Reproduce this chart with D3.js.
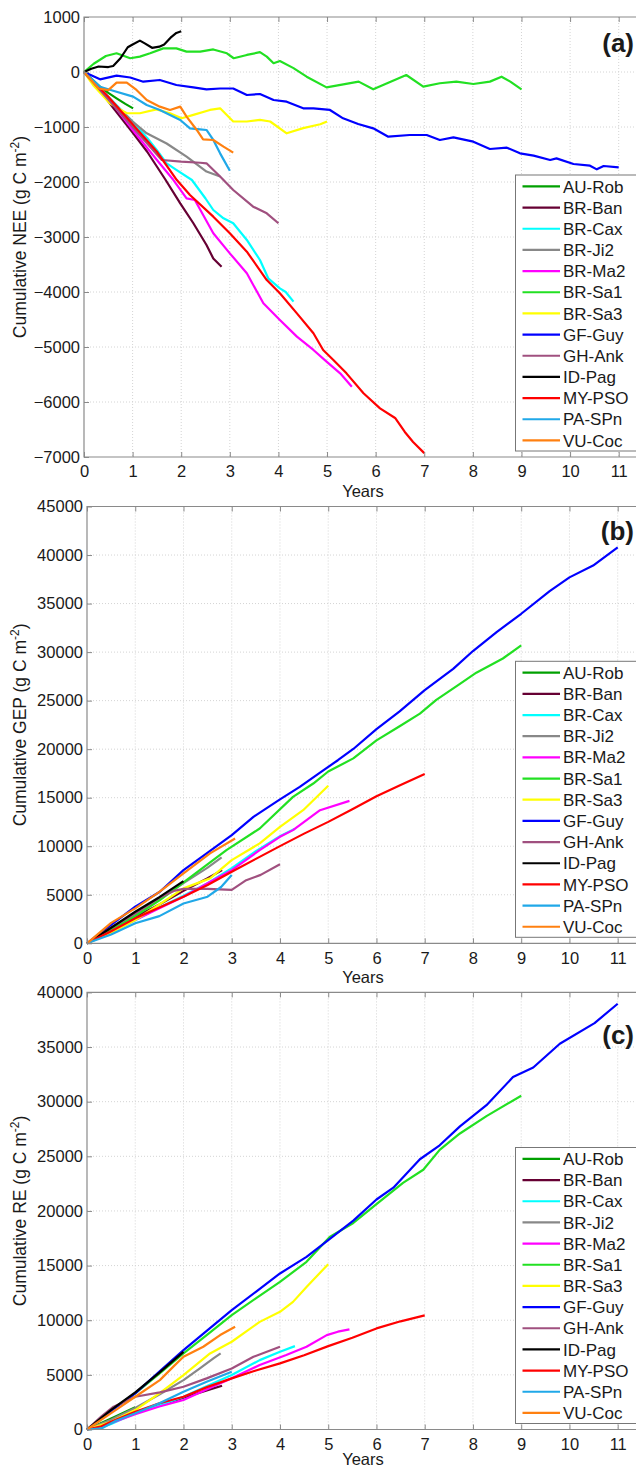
<!DOCTYPE html>
<html>
<head>
<meta charset="utf-8">
<script src="https://cdn.jsdelivr.net/npm/d3@7"></script>
<style>
    body { margin: 0; background: #fff; }
    text { font-family: Arial, "Liberation Sans", sans-serif; fill: #1a1a1a; }
</style>
</head>
<body>
<svg id="chart" width="636" height="1470"></svg>
<script>
// sites in legend (and plotting) order
var sites = ['AU-Rob', 'BR-Ban', 'BR-Cax', 'BR-Ji2', 'BR-Ma2', 'BR-Sa1', 'BR-Sa3',
    'GF-Guy', 'GH-Ank', 'ID-Pag', 'MY-PSO', 'PA-SPn', 'VU-Coc'];
var siteColors = ['#00a000', '#660033', '#00ffff', '#888888', '#ff00ff', '#22e022', '#ffff00',
    '#0000ff', '#a0507f', '#000000', '#ff0000', '#20a8e8', '#ff8010'];

var yearTicks = [0, 1, 2, 3, 4, 5, 6, 7, 8, 9, 10, 11];
var neeTicks = [-7000, -6000, -5000, -4000, -3000, -2000, -1000, 0, 1000];
var gepTicks = [0, 5000, 10000, 15000, 20000, 25000, 30000, 35000, 40000, 45000];
var reTicks = [0, 5000, 10000, 15000, 20000, 25000, 30000, 35000, 40000];

// cumulative NEE, [year, g C m-2], one list per site
var nee = [
    [[0, 0], [0.15, -120], [0.33, -267], [0.5, -380], [0.67, -479], [0.85, -580], [1.01, -661]],
    [[0, 0], [0.3, -300], [0.6, -650], [1.0, -1100], [1.3, -1450], [1.67, -1950], [1.98, -2390], [2.25, -2750], [2.52, -3145], [2.66, -3390], [2.83, -3540]],
    [[0, 0], [0.5, -450], [1.0, -900], [1.3, -1200], [1.5, -1420], [1.7, -1660], [1.9, -1780], [2.22, -1964], [2.5, -2300], [2.66, -2509], [2.87, -2660], [3.07, -2751], [3.35, -3054], [3.62, -3418], [3.79, -3751], [4.03, -3933], [4.15, -4000], [4.31, -4176]],
    [[0, 0], [0.5, -480], [1.0, -900], [1.29, -1115], [1.7, -1300], [2.11, -1540], [2.52, -1810], [2.8, -1900]],
    [[0, 0], [0.5, -480], [1.0, -1050], [1.5, -1600], [1.84, -1964], [2.11, -2297], [2.28, -2327], [2.66, -2933], [3.0, -3297], [3.35, -3660], [3.69, -4206], [4.03, -4509], [4.38, -4812], [4.72, -5054], [4.99, -5267], [5.27, -5479], [5.51, -5721]],
    [[0, 0], [0.2, 150], [0.45, 290], [0.67, 340], [0.95, 250], [1.15, 280], [1.36, 340], [1.63, 430], [1.9, 430], [2.11, 370], [2.39, 370], [2.66, 410], [2.94, 340], [3.08, 250], [3.35, 310], [3.62, 360], [3.76, 280], [3.9, 160], [4.03, 200], [4.31, 70], [4.58, -85], [4.99, -280], [5.65, -175], [5.95, -315], [6.63, -55], [6.98, -265], [7.32, -205], [7.66, -175], [8.01, -218], [8.35, -175], [8.59, -85], [8.77, -175], [9.0, -315]],
    [[0, 0], [0.2, -250], [0.53, -570], [0.88, -750], [1.15, -750], [1.49, -680], [1.77, -750], [2.01, -840], [2.25, -780], [2.59, -690], [2.8, -660], [3.07, -900], [3.35, -900], [3.62, -870], [3.83, -900], [4.17, -1115], [4.51, -1020], [4.86, -950], [5.0, -900]],
    [[0, 0], [0.33, -133], [0.67, -67], [0.95, -100], [1.22, -176], [1.56, -145], [1.9, -236], [2.25, -279], [2.52, -315], [2.8, -300], [3.07, -300], [3.35, -418], [3.62, -400], [3.9, -509], [4.17, -540], [4.51, -660], [4.72, -660], [5.06, -690], [5.33, -842], [5.64, -945], [5.95, -1024], [6.26, -1176], [6.7, -1145], [7.05, -1145], [7.32, -1236], [7.6, -1188], [8.01, -1267], [8.35, -1400], [8.7, -1376], [8.97, -1479], [9.25, -1521], [9.59, -1600], [9.72, -1570], [10.07, -1673], [10.41, -1703], [10.55, -1770], [10.69, -1709], [11.0, -1733]],
    [[0, 0], [0.5, -500], [1.0, -1000], [1.3, -1300], [1.6, -1600], [2.0, -1630], [2.39, -1650], [2.52, -1660], [2.8, -1900], [3.07, -2145], [3.48, -2448], [3.76, -2570], [4.0, -2750]],
    [[0, 0], [0.15, 60], [0.3, 100], [0.5, 90], [0.6, 110], [0.75, 250], [0.9, 450], [1.0, 500], [1.15, 570], [1.25, 520], [1.4, 440], [1.55, 460], [1.65, 500], [1.8, 640], [1.9, 710], [2.0, 740]],
    [[0, 0], [0.5, -450], [1.0, -950], [1.5, -1450], [1.91, -1964], [2.18, -2236], [2.66, -2630], [3.0, -2933], [3.35, -3267], [3.76, -3782], [4.03, -4024], [4.38, -4388], [4.72, -4751], [4.92, -5054], [5.13, -5236], [5.4, -5479], [5.75, -5842], [6.09, -6115], [6.4, -6290], [6.6, -6545], [6.77, -6727], [7.0, -6930]],
    [[0, 0], [0.33, -267], [0.6, -340], [1.01, -448], [1.29, -600], [1.56, -690], [1.77, -782], [1.98, -873], [2.18, -1024], [2.39, -1042], [2.52, -1054], [2.66, -1236], [2.8, -1479], [3.0, -1794]],
    [[0, 0], [0.3, -300], [0.5, -330], [0.67, -194], [0.88, -194], [1.08, -327], [1.29, -509], [1.56, -630], [1.77, -690], [1.98, -630], [2.11, -812], [2.32, -1054], [2.45, -1224], [2.66, -1236], [2.87, -1357], [3.07, -1466]]
];

// cumulative GEP
var gep = [
    [[0, 0], [0.5, 1300], [1.0, 2700]],
    [[0, 0], [0.5, 1300], [1.0, 2700], [1.5, 4000], [2.0, 5400], [2.5, 6700], [2.8, 7540]],
    [[0, 0], [0.5, 1100], [1.0, 2380], [1.5, 3700], [2.0, 4900], [2.5, 6200], [3.0, 7730], [3.5, 9500], [4.0, 11040], [4.31, 11800]],
    [[0, 0], [0.5, 1500], [1.0, 3000], [1.5, 4500], [2.0, 6200], [2.5, 7800], [2.79, 8850]],
    [[0, 0], [0.5, 1200], [1.0, 2400], [1.5, 3600], [2.0, 4800], [2.5, 6200], [3.0, 7540], [3.58, 9600], [4.0, 10970], [4.27, 11660], [4.83, 13710], [5.44, 14670]],
    [[0, 0], [0.5, 1400], [1.0, 2800], [1.51, 4450], [2.2, 7030], [2.89, 9600], [3.58, 11830], [4.27, 15080], [4.69, 16460], [5.0, 17700], [5.52, 19050], [6.0, 20900], [6.48, 22360], [6.9, 23660], [7.24, 25070], [7.73, 26720], [8.07, 27880], [8.62, 29340], [9.0, 30700]],
    [[0, 0], [0.5, 1100], [1.0, 2400], [1.5, 4000], [2.0, 5660], [2.55, 6690], [3.0, 8570], [3.58, 10290], [4.0, 12000], [4.48, 13710], [5.0, 16230]],
    [[0, 0], [0.5, 1900], [1.0, 3770], [1.51, 5310], [2.0, 7540], [2.48, 9260], [3.0, 11140], [3.45, 13030], [4.0, 14820], [4.41, 16110], [4.83, 17590], [5.2, 18860], [5.52, 20020], [6.0, 22060], [6.48, 23900], [7.0, 26090], [7.59, 28270], [8.0, 30110], [8.49, 32060], [9.0, 33950], [9.59, 36280], [10.0, 37700], [10.49, 38920], [11.0, 40800]],
    [[0, 0], [0.5, 1600], [1.0, 3100], [1.5, 4700], [1.8, 5400], [2.0, 5600], [2.5, 5600], [3.0, 5500], [3.3, 6500], [3.6, 7050], [4.0, 8150]],
    [[0, 0], [0.5, 1600], [1.0, 3250], [1.5, 4750], [2.0, 6400]],
    [[0, 0], [0.5, 1250], [1.0, 2570], [1.5, 3700], [2.0, 4800], [2.5, 6000], [3.0, 7370], [3.5, 8700], [4.0, 10010], [4.5, 11300], [5.0, 12510], [5.5, 13800], [6.0, 15150], [6.5, 16300], [7.0, 17450]],
    [[0, 0], [0.5, 900], [1.0, 2060], [1.5, 2800], [2.0, 4100], [2.5, 4800], [2.78, 5800], [3.0, 7030]],
    [[0, 0], [0.5, 2100], [1.0, 3600], [1.5, 5300], [2.0, 7200], [2.55, 9260], [3.07, 10800]]
];

// cumulative RE
var re = [
    [[0, 0], [0.5, 1000], [1.0, 2040]],
    [[0, 0], [0.5, 700], [1.0, 1500], [1.5, 2200], [2.0, 2900], [2.5, 3600], [2.8, 4000]],
    [[0, 0], [0.3, 200], [0.5, 500], [1.0, 1480], [1.5, 2200], [2.0, 3000], [2.5, 4000], [3.0, 4980], [3.58, 6350], [4.0, 7110], [4.31, 7630]],
    [[0, 0], [0.5, 900], [1.0, 1960], [1.5, 3200], [2.0, 4520], [2.34, 5590], [2.62, 6510], [2.77, 6960]],
    [[0, 0], [0.5, 600], [1.0, 1400], [1.5, 2100], [2.0, 2700], [2.5, 3700], [3.0, 4680], [3.58, 5900], [4.13, 6810], [4.55, 7570], [4.97, 8640], [5.2, 8950], [5.44, 9160]],
    [[0, 0], [0.5, 1800], [1.0, 3300], [1.5, 5100], [2.0, 6960], [2.5, 8700], [3.0, 10470], [3.5, 12000], [4.0, 13510], [4.55, 15340], [5.03, 17610], [5.52, 18900], [6.0, 20620], [6.55, 22570], [6.97, 23770], [7.31, 25590], [7.73, 27090], [8.28, 28680], [9.0, 30540]],
    [[0, 0], [0.5, 700], [1.0, 1780], [1.5, 3300], [2.0, 4980], [2.55, 6960], [3.0, 8030], [3.58, 9850], [4.0, 10770], [4.27, 11680], [4.55, 13050], [5.0, 15130]],
    [[0, 0], [0.5, 1700], [1.0, 3310], [1.5, 5300], [2.0, 7270], [2.5, 9100], [3.0, 10920], [3.5, 12600], [4.0, 14280], [4.55, 15800], [5.0, 17320], [5.52, 19110], [6.0, 21050], [6.35, 22130], [6.9, 24730], [7.31, 26010], [7.73, 27740], [8.28, 29680], [8.83, 32250], [9.25, 33130], [9.8, 35300], [10.52, 37190], [11.0, 38960]],
    [[0, 0], [0.3, 1200], [0.55, 2090], [1.0, 3000], [1.51, 3400], [2.0, 3910], [2.48, 4680], [3.0, 5590], [3.45, 6650], [4.0, 7570]],
    [[0, 0], [0.5, 1800], [1.0, 3400], [1.5, 5200], [2.0, 7100]],
    [[0, 0], [0.3, 300], [0.5, 700], [1.0, 1630], [1.5, 2400], [2.0, 3000], [2.5, 3900], [3.0, 4680], [3.5, 5400], [4.0, 6050], [4.5, 6800], [5.0, 7630], [5.5, 8400], [6.0, 9250], [6.5, 9900], [7.0, 10450]],
    [[0, 0], [0.3, 100], [0.6, 800], [1.0, 1480], [1.5, 2400], [2.0, 3450], [2.48, 4370], [3.0, 5280]],
    [[0, 0], [0.5, 1500], [1.0, 3000], [1.51, 4520], [1.8, 5800], [2.0, 6650], [2.41, 7570], [2.76, 8640], [3.07, 9400]]
];

var panels = [
    { data: nee, ticks: neeTicks, name: 'NEE', tag: '(a)', tagY: 360, left: 84, top: 17, bottom: 457, x11: 618.7 },
    { data: gep, ticks: gepTicks, name: 'GEP', tag: '(b)', tagY: 41500, left: 87, top: 506.5, bottom: 943.3, x11: 617.7 },
    { data: re, ticks: reTicks, name: 'RE', tag: '(c)', tagY: 35300, left: 87, top: 992.4, bottom: 1429.5, x11: 617.7 }
];

var svg = d3.select('#chart');
var axisGray = '#8a8a8a';
var rightEdge = 645;

function drawPanel(p) {
    var x = d3.scaleLinear().domain([0, 11]).range([p.left, p.x11]);
    var y = d3.scaleLinear()
        .domain([p.ticks[0], p.ticks[p.ticks.length - 1]])
        .range([p.bottom, p.top]);
    var g = svg.append('g');

    // dotted grid
    g.selectAll('.gx').data(yearTicks.slice(1)).enter().append('line')
        .attr('x1', x).attr('x2', x)
        .attr('y1', p.top).attr('y2', p.bottom)
        .attr('stroke', '#d4d4d4').attr('stroke-dasharray', '1,2');
    g.selectAll('.gy').data(p.ticks.slice(1, -1)).enter().append('line')
        .attr('x1', p.left).attr('x2', rightEdge)
        .attr('y1', y).attr('y2', y)
        .attr('stroke', '#d4d4d4').attr('stroke-dasharray', '1,2');

    // series, later sites on top
    var line = d3.line().x(function (d) { return x(d[0]); }).y(function (d) { return y(d[1]); });
    p.data.forEach(function (pts, i) {
        g.append('path')
            .attr('d', line(pts))
            .attr('fill', 'none')
            .attr('stroke', siteColors[i])
            .attr('stroke-width', 2.2)
            .attr('stroke-linejoin', 'round');
    });

    // frame: left, top and bottom (right side is cut off)
    g.append('path')
        .attr('d', 'M' + rightEdge + ',' + p.top + 'H' + p.left + 'V' + p.bottom + 'H' + rightEdge)
        .attr('fill', 'none').attr('stroke', axisGray).attr('stroke-width', 1.2);

    // axes with inward ticks
    var ax = g.append('g').attr('transform', 'translate(0,' + p.bottom + ')')
        .call(d3.axisBottom(x).tickValues(yearTicks).tickSizeInner(-5).tickSizeOuter(0).tickPadding(8.5));
    var axTop = g.append('g').attr('transform', 'translate(0,' + p.top + ')')
        .call(d3.axisTop(x).tickValues(yearTicks).tickSizeInner(-5).tickSizeOuter(0).tickFormat(''));
    var ay = g.append('g').attr('transform', 'translate(' + p.left + ',0)')
        .call(d3.axisLeft(y).tickValues(p.ticks).tickSizeInner(-5).tickSizeOuter(0).tickPadding(4)
            .tickFormat(d3.format('d')));
    [ax, axTop, ay].forEach(function (a) {
        a.select('.domain').remove();
        a.selectAll('line').attr('stroke', axisGray);
        a.selectAll('text').attr('font-size', 16.5).attr('font-family', null).attr('fill', '#1a1a1a');
    });

    // last panel sits on the page edge, keep its label inside
    g.append('text')
        .attr('x', 363).attr('y', Math.min(p.bottom + 40, 1465))
        .attr('text-anchor', 'middle').attr('font-size', 16.5)
        .text('Years');

    // rotated y label with superscript
    var yl = g.append('text')
        .attr('transform', 'translate(26,' + ((p.top + p.bottom) / 2) + ') rotate(-90)')
        .attr('text-anchor', 'middle').attr('font-size', 17.5);
    yl.append('tspan').text('Cumulative ' + p.name + ' (g C m');
    yl.append('tspan').attr('font-size', 12).attr('dy', -7).text('-2');
    yl.append('tspan').attr('dy', 7).text(')');

    g.append('text')
        .attr('x', 634).attr('y', y(p.tagY))
        .attr('text-anchor', 'end').attr('font-size', 26).attr('font-weight', 'bold')
        .attr('fill', '#333')
        .text(p.tag);

    // legend box
    var legTop = p.bottom - 282;
    var leg = g.append('g').attr('transform', 'translate(515.5,' + legTop + ')');
    leg.append('rect')
        .attr('width', 140).attr('height', 276)
        .attr('fill', '#fff').attr('stroke', '#777').attr('stroke-width', 1);
    sites.forEach(function (s, i) {
        var ry = 11.4 + i * 21.17;
        leg.append('line')
            .attr('x1', 7).attr('x2', 44.5).attr('y1', ry).attr('y2', ry)
            .attr('stroke', siteColors[i]).attr('stroke-width', 2.2);
        leg.append('text')
            .attr('x', 47.5).attr('y', ry).attr('dy', '0.36em')
            .attr('font-size', 17)
            .text(s);
    });
}

panels.forEach(drawPanel);
</script>
</body>
</html>
